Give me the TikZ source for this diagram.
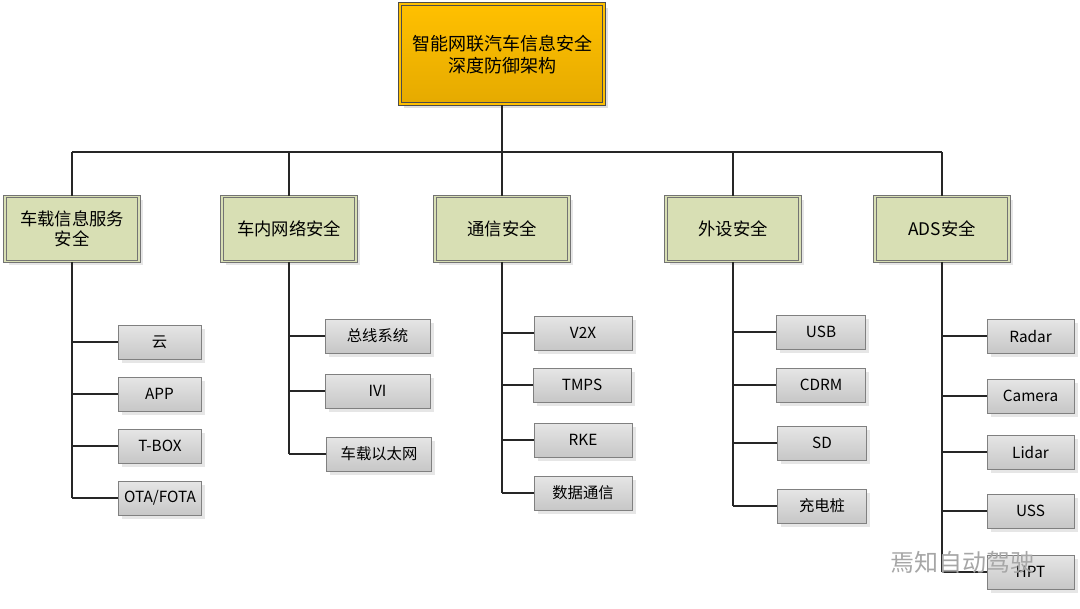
\documentclass[tikz,border=0pt]{standalone}
\usepackage{fontspec}
\setmainfont{Noto Sans CJK SC}
\usetikzlibrary{shadows}
\definecolor{gold}{HTML}{FFC000}
\definecolor{goldd}{HTML}{E5AA00}
\definecolor{olive}{HTML}{D8DFB4}
\tikzset{every picture/.style={line width=0.75pt},
  root/.style={draw=black!70,double=gold,double distance=1.5pt,top color=gold,bottom color=goldd,minimum width=204pt*0.75,minimum height=100pt*0.75,align=center,font=\fontsize{13.5}{17}\selectfont,drop shadow={opacity=0.25}},
  cat/.style={draw=black!55,double=olive,double distance=1.2pt,fill=olive,minimum width=134pt*0.75,minimum height=65pt*0.75,align=center,font=\fontsize{13}{15}\selectfont,drop shadow={opacity=0.2}},
  leaf/.style={draw=black!50,top color=black!10,bottom color=black!22,minimum height=34pt*0.75,font=\fontsize{11.5}{13}\selectfont,drop shadow={opacity=0.2}},
  link/.style={draw=black!85,line width=1.1pt}}
\begin{document}
\begin{tikzpicture}[x=0.75pt,y=0.75pt,yscale=-1,xscale=1]
\useasboundingbox (0,0) rectangle (1080,609);

% root and bus
\node[root] (root) at (502,54.5) {智能网联汽车信息安全\\深度防御架构};
\coordinate (bus) at (502,152);
\draw[link] (root.south) -- (bus);
\draw[link] (72,152) -- (942,152);

% categories
\node[cat] (c1) at (72,229) {车载信息服务\\安全};
\node[cat] (c2) at (289,229) {车内网络安全};
\node[cat] (c3) at (502,229) {通信安全};
\node[cat] (c4) at (733,229) {外设安全};
\node[cat] (c5) at (942,229) {ADS安全};
\foreach \c in {c1,c2,c3,c4,c5}
  \draw[link] (\c.north) -- (\c.north |- bus);

% leaves of column 1
\node[leaf,minimum width=83pt*0.75] (a1) at (159.5,342) {云};
\node[leaf,minimum width=83pt*0.75] (a2) at (159.5,394) {APP};
\node[leaf,minimum width=83pt*0.75] (a3) at (160,446) {T-BOX};
\node[leaf,minimum width=83pt*0.75] (a4) at (160,498) {OTA/FOTA};
% leaves of column 2
\node[leaf,minimum width=105pt*0.75] (b1) at (377.5,336) {总线系统};
\node[leaf,minimum width=105pt*0.75] (b2) at (377.5,391) {IVI};
\node[leaf,minimum width=105pt*0.75] (b3) at (379,454) {车载以太网};
% leaves of column 3
\node[leaf,minimum width=98pt*0.75] (d1) at (583,333) {V2X};
\node[leaf,minimum width=98pt*0.75] (d2) at (582,385) {TMPS};
\node[leaf,minimum width=98pt*0.75] (d3) at (583,440) {RKE};
\node[leaf,minimum width=98pt*0.75] (d4) at (583,493) {数据通信};
% leaves of column 4
\node[leaf,minimum width=89pt*0.75] (e1) at (821,332) {USB};
\node[leaf,minimum width=89pt*0.75] (e2) at (821,385) {CDRM};
\node[leaf,minimum width=89pt*0.75] (e3) at (822,443) {SD};
\node[leaf,minimum width=89pt*0.75] (e4) at (822,506) {充电桩};
% leaves of column 5
\node[leaf,minimum width=87pt*0.75] (f1) at (1030.5,336) {Radar};
\node[leaf,minimum width=87pt*0.75] (f2) at (1030.5,396) {Camera};
\node[leaf,minimum width=87pt*0.75] (f3) at (1030.5,452) {Lidar};
\node[leaf,minimum width=87pt*0.75] (f4) at (1030.5,511) {USS};
\node[leaf,minimum width=87pt*0.75] (f5) at (1030.5,572) {HPT};

% trunks
\draw[link] (c1.south) -- (c1.south |- a4);
\draw[link] (c2.south) -- (c2.south |- b3);
\draw[link] (c3.south) -- (c3.south |- d4);
\draw[link] (c4.south) -- (c4.south |- e4);
\draw[link] (c5.south) -- (c5.south |- f5);
\foreach \l in {a1,a2,a3,a4} \draw[link] (\l.west) -- (\l.west -| c1);
\foreach \l in {b1,b2,b3} \draw[link] (\l.west) -- (\l.west -| c2);
\foreach \l in {d1,d2,d3,d4} \draw[link] (\l.west) -- (\l.west -| c3);
\foreach \l in {e1,e2,e3,e4} \draw[link] (\l.west) -- (\l.west -| c4);
\foreach \l in {f1,f2,f3,f4,f5} \draw[link] (\l.west) -- (\l.west -| c5);

% watermark
\node[text=black!35,font=\fontsize{18}{20}\selectfont] (mark) at (962,562) {焉知自动驾驶};
\end{tikzpicture}
\end{document}
